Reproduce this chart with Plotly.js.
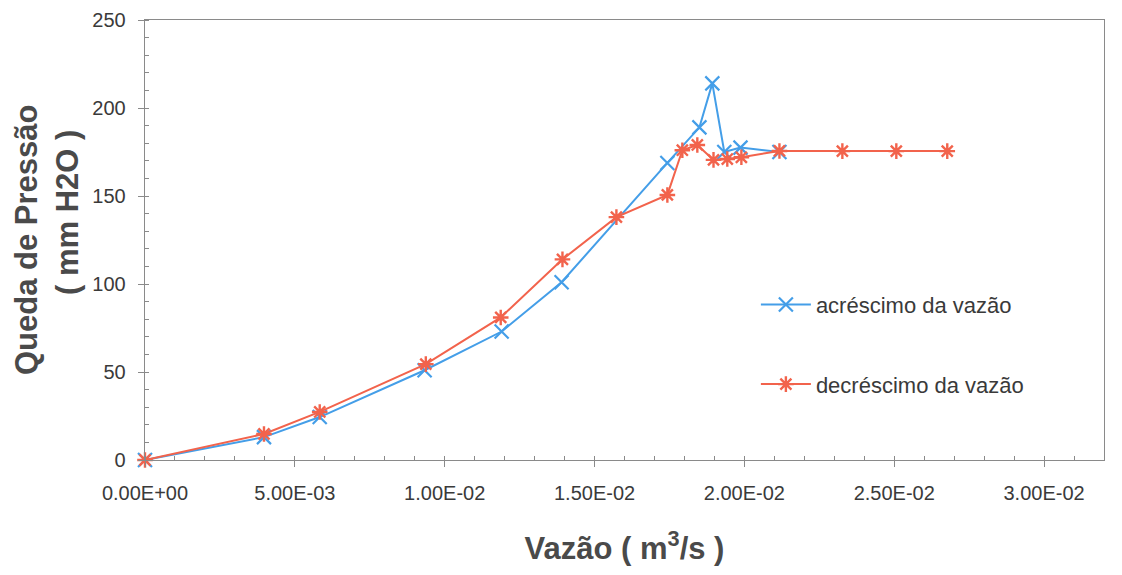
<!DOCTYPE html>
<html>
<head>
<meta charset="utf-8">
<script src="https://cdn.plot.ly/plotly-3.0.1.min.js"></script>
<style>html,body{margin:0;padding:0;background:#fff;}#chart{width:1122px;height:575px;}</style>
</head>
<body>
<div id="chart"></div>
<script>
// Vazão (m3/s) and Queda de Pressão (mm H2O)
var xAcrescimo = [0, 0.00397, 0.00583, 0.00933, 0.0119, 0.0139, 0.01743, 0.0185, 0.01893, 0.01933, 0.01987, 0.02117];
var yAcrescimo = [0, 13, 24.4, 51, 73, 101, 168.8, 189, 214, 175, 177.5, 175];
var xDecrescimo = [0, 0.00397, 0.00583, 0.00937, 0.01187, 0.01393, 0.01573, 0.01743, 0.01793, 0.01843, 0.01897, 0.01943, 0.0199, 0.02117, 0.02327, 0.02507, 0.02677];
var yDecrescimo = [0, 14.8, 27.3, 54.5, 81, 114, 138, 150.6, 176, 179, 170.5, 171, 172, 175.6, 175.5, 175.5, 175.5];
var xTickVals = [0, 0.005, 0.01, 0.015, 0.02, 0.025, 0.03];
var xTickText = ["0.00E+00", "5.00E-03", "1.00E-02", "1.50E-02", "2.00E-02", "2.50E-02", "3.00E-02"];
var yTickVals = [0, 50, 100, 150, 200, 250];
var seriesNames = ["acréscimo da vazão", "decréscimo da vazão"];

var blue = "#449ee8", red = "#f2634c";
var traces = [
  {x: xAcrescimo, y: yAcrescimo, name: seriesNames[0], type: "scatter", mode: "lines+markers",
   legendgroup: "a",
   line: {color: blue, width: 2}, marker: {symbol: "x-thin-open", size: 14, line: {color: blue, width: 2.2}}, cliponaxis: false},
  {x: xDecrescimo, y: yDecrescimo, name: seriesNames[1], type: "scatter", mode: "lines+markers",
   legendgroup: "b",
   line: {color: red, width: 2}, marker: {symbol: "asterisk-open", size: 13, line: {color: red, width: 2.4}}, cliponaxis: false}
];

var fam = "Liberation Sans, Arial, sans-serif";
var tickFont = {family: fam, size: 20, color: "#3a3a3a"};
var titleFont = {family: fam, size: 31, color: "#4a4a4a"};
var layout = {
  width: 1122, height: 575,
  margin: {l: 145, r: 18, t: 20, b: 115},
  paper_bgcolor: "#fff", plot_bgcolor: "#fff",
  showlegend: true,
  legend: {x: 0.637, y: 0.262, xanchor: "left", yanchor: "middle", bgcolor: "rgba(0,0,0,0)",
           font: {family: fam, size: 22, color: "#3a3a3a"},
           tracegroupgap: 48, traceorder: "grouped", itemwidth: 50},
  xaxis: {
    range: [0, 0.032], tickvals: xTickVals, ticktext: xTickText, tickfont: tickFont,
    showgrid: false, zeroline: false, showline: true, linecolor: "#8a8a8a", linewidth: 1.3, mirror: true,
    ticks: "outside", ticklen: 6, tickcolor: "#8a8a8a", ticklabelstandoff: 9,
    minor: {dtick: 0.001, ticks: "inside", ticklen: 4, tickcolor: "#8a8a8a", showgrid: false},
    title: {text: "<b>Vazão ( m<sup>3</sup>/s )</b>", font: titleFont, standoff: 34}
  },
  yaxis: {
    range: [0, 250], tickvals: yTickVals, tickfont: tickFont,
    showgrid: false, zeroline: false, showline: true, linecolor: "#8a8a8a", linewidth: 1.3, mirror: true,
    ticks: "outside", ticklen: 6, tickcolor: "#8a8a8a", ticklabelstandoff: 8,
    minor: {dtick: 10, ticks: "inside", ticklen: 4, tickcolor: "#8a8a8a", showgrid: false}
  },
  annotations: [
    {text: "<b>Queda de Pressão</b>", xref: "paper", yref: "paper", x: -0.124, y: 0.50, xanchor: "center", yanchor: "middle",
     textangle: -90, showarrow: false, font: titleFont},
    {text: "<b>( mm H2O )</b>", xref: "paper", yref: "paper", x: -0.081, y: 0.562, xanchor: "center", yanchor: "middle",
     textangle: -90, showarrow: false, font: titleFont}
  ]
};
Plotly.newPlot("chart", traces, layout, {displayModeBar: false, staticPlot: true});
</script>
</body>
</html>
